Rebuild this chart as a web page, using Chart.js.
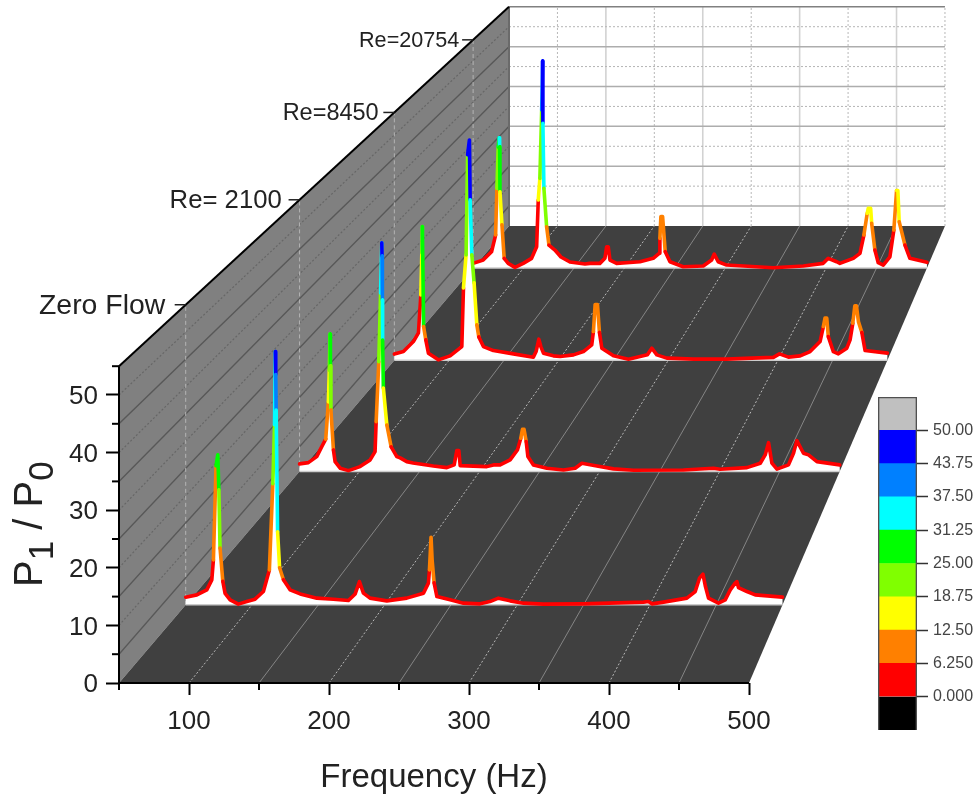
<!DOCTYPE html>
<html><head><meta charset="utf-8">
<style>html,body{margin:0;padding:0;background:#fff}#wrap{position:relative;width:980px;height:794px;overflow:hidden}canvas{position:absolute;display:block}</style>
<script src="https://cdn.jsdelivr.net/npm/chart.js@4"></script>
</head><body><div id="wrap"><canvas id="main" width="980" height="794" style="left:0;top:0"></canvas><canvas id="bar" width="110" height="350" style="left:870px;top:391px"></canvas></div>
<script>
const seriesLabels=['Zero Flow','Re= 2100','Re=8450','Re=20754'];
const seriesDepths=[0.171,0.463,0.706,0.908];
const xTickValues=[50,100,150,200,250,300,350,400,450,500];
const yTickValues=[0,5,10,15,20,25,30,35,40,45,50,55];
const colorLevels=[0,6.25,12.5,18.75,25,31.25,37.5,43.75,50];
const colorLabels=['0.000','6.250','12.50','18.75','25.00','31.25','37.50','43.75','50.00'];
const levelColors=['#ff0000','#ff8000','#ffff00','#80ff00','#00ff00','#00ffff','#0080ff','#0000ff'];

const zeroFlowFreq=[50,58.4,65.9,69.7,70.9,72.9,74.2,75,75.9,78,79.7,83.5,89.7,96.1,102.3,108.6,113.1,115.7,117,117.6,117.9,118.2,119.3,120.8,123.7,128.7,136.3,148.9,161.4,172.7,177.8,181,184,189,201.7,216.7,229.3,233,233.8,235,235.8,237.3,239.4,249.4,259.4,271.9,279.4,285.8,294.6,304.7,319.8,349.7,395.2,398.9,401.5,410.3,427.9,434.2,437.4,440,441.9,444.2,451.7,456.8,460.6,464.3,465.6,466.8,473.2,479.4,500];
const zeroFlowP=[1.41,1.83,2.75,4.58,8.25,25.5,27.5,21.1,10.4,4.3,2.1,0.9,0.13,0.6,1.04,2.44,6.4,22.2,33,46.4,42.2,35.7,13.4,6.8,4.6,2.75,2,1.23,1.04,0.8,2,4.27,2.14,1.23,0.73,1.23,2.14,3.98,6.4,12.4,8.25,4.03,1.52,0.92,0.31,0.18,0.6,1.23,0.73,0.31,0.13,0.18,0.5,0.6,0.18,0.5,1.23,2.44,4.89,5.63,3.35,1.23,0.31,0.92,2.75,3.98,4.27,3.17,2.44,1.83,1.41];

const re2100Freq=[50,57.3,64.3,68.5,71.8,74,74.8,75.4,75.7,76.1,78.2,79.6,83.8,90.7,100.4,108.8,112.9,113.8,116,117.5,118.5,118.7,119,119.2,119.8,122.7,126.3,131,133.8,139.3,144.6,161.5,172.7,178.8,181,182.7,183.8,206,211.5,217.1,225.4,231.5,234.3,235.7,237,238.8,240.2,244.8,256,269.8,279.6,285.2,297.7,311.5,328.2,369.8,394.8,400.4,422.7,433.8,437.9,440.7,443.5,447.7,457.3,461.5,464.3,469.8,474,481,500];
const re2100P=[1.52,1.78,3,5.02,6.52,14.07,20.5,27.8,21.4,12.45,4.35,1.98,0.65,0.16,0.97,2.33,4,10.08,22.2,36.1,46.3,43.6,34.7,26.6,16.9,9.4,4.96,3,2.73,1.98,1.72,1.11,0.77,1.32,4.21,4.21,1.17,0.97,1.32,1.32,2.33,4.35,6.72,8.54,8.54,6.03,3,1.32,0.65,0.3,0.65,1.66,1.11,0.51,0.24,0.3,0.65,0.45,0.77,1.66,3.34,5.83,1.66,0.45,1.32,3.68,6.23,3.68,3.34,1.98,1.32];

const re8450Freq=[50,58.3,67.4,72,74.2,75.1,75.6,76.7,78.7,81.1,90.2,100.9,111.6,113.1,115.5,116.9,118.5,119.2,120.7,122.8,125.3,127.1,131.3,140.4,158.7,176.9,179.4,181.9,183.7,186.1,195.2,201.3,213.5,222.6,230.2,231.7,233.3,235.4,237.2,239.4,250,263.7,274.3,281,285,289.6,298.7,323,353.5,376.3,396,401.5,409.7,420.4,429.5,438.6,441.6,443.1,444.7,446.1,450.7,455.3,463,466,468.5,470.3,471.8,473.6,476.7,479.7,500];
const re8450P=[1.4,1.95,4.17,6.1,14.5,23.85,29.7,7.5,4.55,1.6,0.11,1,3.06,16.08,23.4,45.6,48.9,35.6,23.4,17.2,7.87,5.2,3.06,2.17,1.44,0.71,1.95,4.7,3.06,1.6,1,0.84,1.22,1.95,3.44,6.39,12.4,12.4,6.2,2.7,1,0.27,0.84,1.22,2.7,1.22,0.49,0.27,0.27,0.49,0.67,1.44,0.71,1,1.95,4.17,7.5,9.36,9.36,5.28,1.95,1.44,2.7,4.55,8.25,12.09,12.09,8.6,6.2,2.17,1.6];

const re20754Freq=[50,60,68.3,72.3,73.6,74.9,75.9,76.3,76.6,78.6,80.8,84.8,91.5,99.7,108,113,114.6,116.2,118,118.9,119.2,120.2,122.9,125.2,131.1,137.1,146,160.9,165.8,175.7,180.7,182.4,184,185.7,192.3,215.4,228.6,234.5,235.2,236.2,237.9,240.5,245.2,258.3,278.2,286.5,289.1,293,301.4,347.6,377.4,397.2,402.1,410.5,413.7,427,433.6,437.5,440.8,441.8,444.2,445.2,448.4,451.7,456.7,463.3,467.2,469.9,471.2,472.5,478.2,483.1,500];
const re20754P=[1.13,1.93,3.93,7.95,19.2,29.2,31.4,29.2,18.4,10.4,2.34,1.13,0.17,1.13,2.34,5.13,16.4,21.6,38.1,49.9,34.9,19.2,9.95,5.54,4.34,2.65,1.45,0.96,1.13,1.13,2.34,5.13,5.13,1.93,1.13,1.52,2.34,3.54,7.16,12.4,12.4,3.93,1.52,0.31,0.48,1.93,3.37,1.52,0.72,0.07,0.48,1.13,2.34,1.52,1.13,2.34,3.54,7.95,13.2,14.4,14.4,10.8,4.34,1.28,0.72,2.72,9.16,18.7,18.7,11.16,5.54,2.34,1.37];

const seriesFreq=[zeroFlowFreq,re2100Freq,re8450Freq,re20754Freq];
const seriesP=[zeroFlowP,re2100P,re8450P,re20754P];

const FONT='"Liberation Sans", Arial, sans-serif';
// oblique perspective used by the waterfall: every mark goes through this, then through the chart's scales
function project(f,p,d){const s=1-0.308*d;return {x:50+278.57*d+(f-50)*s,y:79.34*d+p*s};}
function line(pts,color,width,dash,extra){return Object.assign({data:pts,showLine:true,borderColor:color,borderWidth:width,borderDash:dash||[],pointRadius:0,fill:false,tension:0},extra||{});}
function poly(pts,color){return {data:pts,showLine:true,borderWidth:0,borderColor:'transparent',backgroundColor:color,pointRadius:0,fill:'shape',tension:0};}
function noPad(s){s.paddingTop=0;s.paddingBottom=0;s.paddingLeft=0;s.paddingRight=0;}

const ds=[];
// left wall
ds.push(poly([project(50,0,0),project(50,55,0),project(50,55,1),project(50,0,1)],'#808080'));
yTickValues.filter(v=>v>0&&v<55).forEach(v=>{
  const dotted=v%10===0;
  ds.push(line([project(50,v,0),project(50,v,1)],dotted?'#666666':'#585858',dotted?1.2:1.4,dotted?[2,2]:[]));
});
seriesDepths.forEach(d=>ds.push(line([project(50,0,d),project(50,55,d)],'#b4b4b4',1,[4,3])));
// back wall
xTickValues.slice(1).forEach(f=>{
  const dotted=f%100===0;
  ds.push(line([project(f,0,1),project(f,55,1)],dotted?'#b8b8b8':'#d2d2d2',dotted?1:1.6,dotted?[2,2]:[]));
});
yTickValues.filter(v=>v>0).forEach(v=>{
  const dotted=v%10===0;
  ds.push(line([project(50,v,1),project(500,v,1)],dotted?'#b4b4b4':(v===55?'#808080':'#adadad'),dotted?1:1.5,dotted?[2,2]:[]));
});
ds.push(line([project(50,0,1),project(50,55,1)],'#6a6a6a',2));
// floor
ds.push(poly([project(50,0,0),project(500,0,0),project(500,0,1),project(50,0,1)],'#404040'));
xTickValues.slice(1,-1).forEach(f=>{
  const dotted=f%100===0;
  ds.push(line([project(f,0,0),project(f,0,1)],dotted?'#b8b8b8':'#858585',1,dotted?[2,2]:[]));
});
// curtains, back to front
for(let i=3;i>=0;i--){
  const d=seriesDepths[i],F=seriesFreq[i],P=seriesP[i];
  const pts=F.map((f,k)=>project(f,P[k],d));
  ds.push(poly([project(F[0],0,d),...pts,project(F[F.length-1],0,d)],'#ffffff'));
  ds.push(line([project(F[0],0,d),project(F[F.length-1],0,d)],'#cccccc',1.5));
  ds.push(line(pts,'#ff0000',3.6,[],{label:seriesLabels[i],borderCapStyle:'round',borderJoinStyle:'round',
    segment:{borderColor:ctx=>levelColors[Math.min(7,Math.floor(P[ctx.p0DataIndex]/6.25))]}}));
}
// frame
ds.push(line([project(50,55,0),project(50,55,1)],'#000000',2,[],{clip:false}));
ds.push(line([project(50,0,0),project(50,55,0)],'#000000',2,[],{clip:false}));
ds.push(line([project(50,0,0),project(500,0,0)],'#000000',2,[],{clip:false}));
ds.forEach((d,i)=>d.order=ds.length-i);

const decorate={id:'decorate',afterDraw(chart){
  const c=chart.ctx,X=chart.scales.x,Y=chart.scales.y;
  c.save();
  // minor ticks
  c.strokeStyle='#000';c.lineWidth=2;
  xTickValues.filter(v=>v%100!==0).forEach(v=>{const px=X.getPixelForValue(v);c.beginPath();c.moveTo(px,Y.bottom);c.lineTo(px,Y.bottom+7);c.stroke();});
  yTickValues.filter(v=>v%10!==0).forEach(v=>{const py=Y.getPixelForValue(v);c.beginPath();c.moveTo(X.left,py);c.lineTo(X.left-7,py);c.stroke();});
  // depth labels on the wall
  c.fillStyle='#222';c.textAlign='right';c.textBaseline='middle';
  seriesDepths.forEach((d,i)=>{
    const p=project(50,55,d),px=X.getPixelForValue(p.x),py=Y.getPixelForValue(p.y),s=1-0.308*d;
    c.strokeStyle='#222';c.lineWidth=1.5;c.beginPath();c.moveTo(px-11,py);c.lineTo(px,py);c.stroke();
    c.font=(30*s).toFixed(1)+'px '+FONT;
    c.fillText(seriesLabels[i],px-(22-9*d),py+1);
  });
  // axis titles
  c.textAlign='center';c.textBaseline='alphabetic';c.font='33px '+FONT;
  c.fillText(X.options.title.text,X.getPixelForValue(275),787);
  c.save();c.translate(42,587);c.rotate(-Math.PI/2);c.textAlign='left';
  let at=0;
  [['P',40,0],['1',35,11],[' / P',40,0],['0',35,11]].forEach(([t,size,dy])=>{
    c.font=size+'px '+FONT;c.fillText(t,at,dy);at+=c.measureText(t).width;
  });
  c.restore();c.restore();
}};

new Chart(document.getElementById('main'),{type:'scatter',data:{datasets:ds},plugins:[decorate],options:{
  responsive:false,animation:false,events:[],
  layout:{padding:0},
  plugins:{legend:{display:false},tooltip:{enabled:false},title:{display:false}},
  scales:{
    x:{type:'linear',min:50,max:665,
      afterBuildTicks(s){s.ticks=xTickValues.map(v=>({value:v}));},
      afterFit(s){s.height=111;noPad(s);},
      title:{display:false,text:'Frequency (Hz)'},
      border:{display:false},
      grid:{drawOnChartArea:false,drawTicks:true,tickLength:12,tickWidth:2,tickColor:c=>c.tick&&c.tick.value%100===0?'#000':'transparent'},
      ticks:{autoSkip:false,maxRotation:0,padding:11,color:'#222',font:{family:FONT,size:26},callback:v=>v%100===0?String(v):''}},
    y:{type:'linear',min:0,max:118.576,
      afterBuildTicks(s){s.ticks=yTickValues.map(v=>({value:v}));},
      afterFit(s){s.width=119;noPad(s);},
      title:{display:false,text:'P1 / P0'},
      border:{display:false},
      grid:{drawOnChartArea:false,drawTicks:true,tickLength:13,tickWidth:2,tickColor:c=>c.tick&&c.tick.value%10===0?'#000':'transparent'},
      ticks:{autoSkip:false,padding:8,labelOffset:2,color:'#222',font:{family:FONT,size:26},callback:v=>v%10===0?String(v):''}}
  }
}});

// colour scale
const bounds=[-6.25,...colorLevels,56.25];
const barColors=['#000000',...levelColors,'#c0c0c0'];
const barSets=barColors.map((col,i)=>({data:[[bounds[i],bounds[i+1]]],backgroundColor:col,borderWidth:0,grouped:false,barPercentage:1,categoryPercentage:1,order:2}));
barSets.push({data:[[bounds[0],bounds[bounds.length-1]]],backgroundColor:'transparent',borderColor:'#505050',borderWidth:1,grouped:false,barPercentage:1,categoryPercentage:1,order:1});
new Chart(document.getElementById('bar'),{type:'bar',data:{labels:['scale'],datasets:barSets},options:{
  responsive:false,animation:false,events:[],
  layout:{padding:{left:8,top:6,bottom:11,right:0}},
  plugins:{legend:{display:false},tooltip:{enabled:false}},
  scales:{
    x:{display:false},
    y:{position:'right',min:-6.25,max:56.25,
      afterBuildTicks(s){s.ticks=colorLevels.map(v=>({value:v}));},
      afterFit(s){s.width=63;noPad(s);},
      border:{display:false},
      grid:{drawOnChartArea:false,tickLength:11,tickWidth:1.5,tickColor:'#333'},
      ticks:{autoSkip:false,padding:5,color:'#444',font:{family:FONT,size:16},callback:v=>colorLabels[colorLevels.indexOf(v)]}}
  }
}});
</script></body></html>
